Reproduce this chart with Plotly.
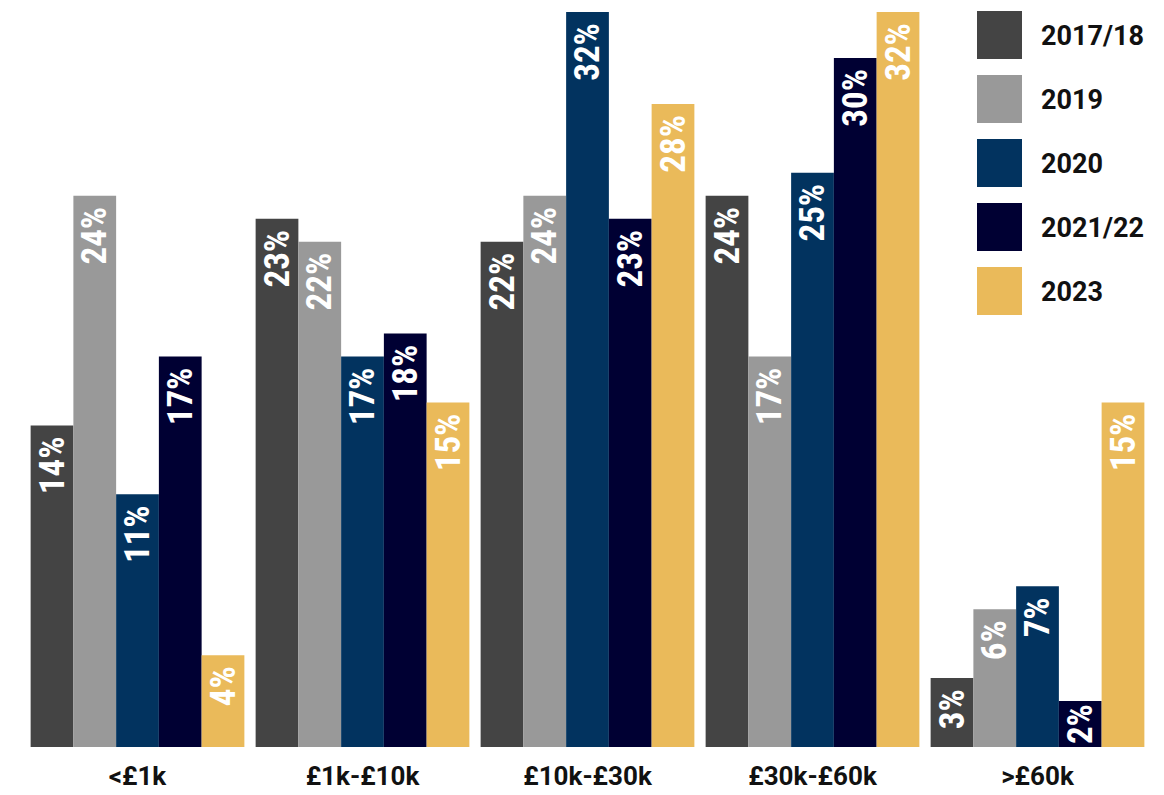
import plotly.graph_objects as go

# Income bands and survey years
bands = ["<£1k", "£1k-£10k", "£10k-£30k", "£30k-£60k", ">£60k"]
years = ["2017/18", "2019", "2020", "2021/22", "2023"]

# Share of respondents (%) per band, one list per year
share_2017 = [14, 23, 22, 24, 3]
share_2019 = [24, 22, 24, 17, 6]
share_2020 = [11, 17, 32, 25, 7]
share_2021 = [17, 18, 23, 30, 2]
share_2023 = [4, 15, 28, 32, 15]

colors = ["#444444", "#999999", "#02335F", "#000033", "#EABA5A"]
series = [share_2017, share_2019, share_2020, share_2021, share_2023]

label_font = "Roboto Condensed, Roboto, sans-serif"
text_font = "Roboto, Arial, sans-serif"


def bar_label(v):
    # a trailing no-break space drops the label a little below the bar top,
    # except on the very shortest bars where there is no room for it
    return f"{v}%" if v < 3 else f"{v}%\u00a0"


fig = go.Figure()
for name, vals, col in zip(years, series, colors):
    fig.add_trace(go.Bar(
        x=bands, y=vals, name=name,
        marker=dict(color=col, line=dict(width=0)),
        text=[bar_label(v) for v in vals],
        textposition="inside",
        insidetextanchor="end",
        textangle=-90,
        textfont=dict(family=label_font, size=35, color="white", weight="bold"),
        showlegend=False,
    ))

# Legend drawn as square swatches with labels
for i, (name, col) in enumerate(zip(years, colors)):
    y0 = 11 + i * 64
    fig.add_shape(type="rect", xref="paper", yref="paper",
                  x0=(977 - 25) / 1125, x1=(1022 - 25) / 1125,
                  y0=(747 - (y0 + 48)) / 735, y1=(747 - y0) / 735,
                  fillcolor=col, line=dict(width=0), layer="above")
    fig.add_annotation(xref="paper", yref="paper",
                       x=(1039 - 25) / 1125, y=(747 - (y0 + 25)) / 735,
                       text=f"<b>{name}</b>", showarrow=False,
                       xanchor="left", yanchor="middle",
                       font=dict(family=text_font, size=27, color="#111111"))

fig.update_layout(
    width=1164, height=795,
    margin=dict(l=25, r=14, t=12, b=48, autoexpand=False),
    barmode="group", bargap=0.05, bargroupgap=0,
    plot_bgcolor="white", paper_bgcolor="white",
    uniformtext=dict(minsize=35, mode="show"),
    xaxis=dict(showgrid=False, showline=False, zeroline=False, ticks="",
               automargin=False,
               tickfont=dict(family=text_font, size=26, color="#111111", weight="bold"),
               ticklabelstandoff=11),
    yaxis=dict(range=[0, 32], visible=False, showgrid=False, zeroline=False),
)

fig.write_html("out.html")
